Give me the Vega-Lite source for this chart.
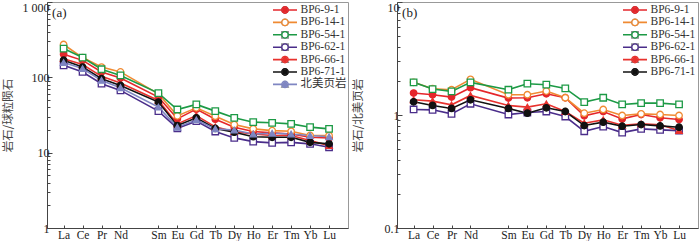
{
  "$schema": "https://vega.github.io/schema/vega-lite/v6.json",
  "background": "white",
  "padding": {"left": 1, "top": -2, "right": 1, "bottom": 0},
  "bounds": "flush",
  "spacing": 49,
  "datasets": {
    "a": [
      {"s":"BP6-9-1","e":"La","v":203},{"s":"BP6-9-1","e":"Ce","v":168},{"s":"BP6-9-1","e":"Pr","v":118},{"s":"BP6-9-1","e":"Nd","v":98},{"s":"BP6-9-1","e":"Sm","v":54.7},{"s":"BP6-9-1","e":"Eu","v":28.1},{"s":"BP6-9-1","e":"Gd","v":37.8},{"s":"BP6-9-1","e":"Tb","v":27.8},{"s":"BP6-9-1","e":"Dy","v":21.8},{"s":"BP6-9-1","e":"Ho","v":19.1},{"s":"BP6-9-1","e":"Er","v":18.3},{"s":"BP6-9-1","e":"Tm","v":17.7},{"s":"BP6-9-1","e":"Yb","v":16},{"s":"BP6-9-1","e":"Lu","v":15.7},
      {"s":"BP6-14-1","e":"La","v":273},{"s":"BP6-14-1","e":"Ce","v":183},{"s":"BP6-14-1","e":"Pr","v":137},{"s":"BP6-14-1","e":"Nd","v":118},{"s":"BP6-14-1","e":"Sm","v":60.5},{"s":"BP6-14-1","e":"Eu","v":30.8},{"s":"BP6-14-1","e":"Gd","v":39.4},{"s":"BP6-14-1","e":"Tb","v":30.5},{"s":"BP6-14-1","e":"Dy","v":23.6},{"s":"BP6-14-1","e":"Ho","v":20.7},{"s":"BP6-14-1","e":"Er","v":19.6},{"s":"BP6-14-1","e":"Tm","v":19.2},{"s":"BP6-14-1","e":"Yb","v":16.9},{"s":"BP6-14-1","e":"Lu","v":16.9},
      {"s":"BP6-54-1","e":"La","v":241},{"s":"BP6-54-1","e":"Ce","v":183},{"s":"BP6-54-1","e":"Pr","v":128},{"s":"BP6-54-1","e":"Nd","v":106},{"s":"BP6-54-1","e":"Sm","v":61.8},{"s":"BP6-54-1","e":"Eu","v":37.4},{"s":"BP6-54-1","e":"Gd","v":43.7},{"s":"BP6-54-1","e":"Tb","v":35.6},{"s":"BP6-54-1","e":"Dy","v":29},{"s":"BP6-54-1","e":"Ho","v":25.4},{"s":"BP6-54-1","e":"Er","v":24.9},{"s":"BP6-54-1","e":"Tm","v":24.1},{"s":"BP6-54-1","e":"Yb","v":21.8},{"s":"BP6-54-1","e":"Lu","v":20.7},
      {"s":"BP6-62-1","e":"La","v":144.5},{"s":"BP6-62-1","e":"Ce","v":117.8},{"s":"BP6-62-1","e":"Pr","v":82.3},{"s":"BP6-62-1","e":"Nd","v":67.1},{"s":"BP6-62-1","e":"Sm","v":35.6},{"s":"BP6-62-1","e":"Eu","v":21.1},{"s":"BP6-62-1","e":"Gd","v":26.2},{"s":"BP6-62-1","e":"Tb","v":19.1},{"s":"BP6-62-1","e":"Dy","v":15.7},{"s":"BP6-62-1","e":"Ho","v":14},{"s":"BP6-62-1","e":"Er","v":13.5},{"s":"BP6-62-1","e":"Tm","v":13.7},{"s":"BP6-62-1","e":"Yb","v":13.1},{"s":"BP6-62-1","e":"Lu","v":11.8},
      {"s":"BP6-66-1","e":"La","v":177},{"s":"BP6-66-1","e":"Ce","v":147.6},{"s":"BP6-66-1","e":"Pr","v":103},{"s":"BP6-66-1","e":"Nd","v":84},{"s":"BP6-66-1","e":"Sm","v":49.4},{"s":"BP6-66-1","e":"Eu","v":24.1},{"s":"BP6-66-1","e":"Gd","v":31.1},{"s":"BP6-66-1","e":"Tb","v":22},{"s":"BP6-66-1","e":"Dy","v":19},{"s":"BP6-66-1","e":"Ho","v":17.7},{"s":"BP6-66-1","e":"Er","v":16.9},{"s":"BP6-66-1","e":"Tm","v":16.9},{"s":"BP6-66-1","e":"Yb","v":14.5},{"s":"BP6-66-1","e":"Lu","v":12.4},
      {"s":"BP6-71-1","e":"La","v":168.6},{"s":"BP6-71-1","e":"Ce","v":137},{"s":"BP6-71-1","e":"Pr","v":96},{"s":"BP6-71-1","e":"Nd","v":78},{"s":"BP6-71-1","e":"Sm","v":47},{"s":"BP6-71-1","e":"Eu","v":22.9},{"s":"BP6-71-1","e":"Gd","v":29},{"s":"BP6-71-1","e":"Tb","v":21},{"s":"BP6-71-1","e":"Dy","v":18.7},{"s":"BP6-71-1","e":"Ho","v":16.3},{"s":"BP6-71-1","e":"Er","v":16},{"s":"BP6-71-1","e":"Tm","v":16},{"s":"BP6-71-1","e":"Yb","v":13.7},{"s":"BP6-71-1","e":"Lu","v":13.1},
      {"s":"北美页岩","e":"La","v":157},{"s":"北美页岩","e":"Ce","v":130.6},{"s":"北美页岩","e":"Pr","v":91},{"s":"北美页岩","e":"Nd","v":72.8},{"s":"北美页岩","e":"Sm","v":40.2},{"s":"北美页岩","e":"Eu","v":21.8},{"s":"北美页岩","e":"Gd","v":27.3},{"s":"北美页岩","e":"Tb","v":20.7},{"s":"北美页岩","e":"Dy","v":20},{"s":"北美页岩","e":"Ho","v":17.7},{"s":"北美页岩","e":"Er","v":18.1},{"s":"北美页岩","e":"Tm","v":17.7},{"s":"北美页岩","e":"Yb","v":16.9},{"s":"北美页岩","e":"Lu","v":16.3}
    ],
    "b": [
      {"s":"BP6-9-1","e":"La","v":1.564},{"s":"BP6-9-1","e":"Ce","v":1.511},{"s":"BP6-9-1","e":"Pr","v":1.44},{"s":"BP6-9-1","e":"Nd","v":1.744},{"s":"BP6-9-1","e":"Sm","v":1.411},{"s":"BP6-9-1","e":"Eu","v":1.421},{"s":"BP6-9-1","e":"Gd","v":1.542},{"s":"BP6-9-1","e":"Tb","v":1.421},{"s":"BP6-9-1","e":"Dy","v":0.983},{"s":"BP6-9-1","e":"Ho","v":1.074},{"s":"BP6-9-1","e":"Er","v":0.924},{"s":"BP6-9-1","e":"Tm","v":1.01},{"s":"BP6-9-1","e":"Yb","v":0.944},{"s":"BP6-9-1","e":"Lu","v":0.912},
      {"s":"BP6-14-1","e":"La","v":1.945},{"s":"BP6-14-1","e":"Ce","v":1.708},{"s":"BP6-14-1","e":"Pr","v":1.674},{"s":"BP6-14-1","e":"Nd","v":2.068},{"s":"BP6-14-1","e":"Sm","v":1.511},{"s":"BP6-14-1","e":"Eu","v":1.511},{"s":"BP6-14-1","e":"Gd","v":1.629},{"s":"BP6-14-1","e":"Tb","v":1.421},{"s":"BP6-14-1","e":"Dy","v":1.038},{"s":"BP6-14-1","e":"Ho","v":1.119},{"s":"BP6-14-1","e":"Er","v":0.99},{"s":"BP6-14-1","e":"Tm","v":1.024},{"s":"BP6-14-1","e":"Yb","v":1.01},{"s":"BP6-14-1","e":"Lu","v":0.99},
      {"s":"BP6-54-1","e":"La","v":1.945},{"s":"BP6-54-1","e":"Ce","v":1.697},{"s":"BP6-54-1","e":"Pr","v":1.618},{"s":"BP6-54-1","e":"Nd","v":1.945},{"s":"BP6-54-1","e":"Sm","v":1.674},{"s":"BP6-54-1","e":"Eu","v":1.892},{"s":"BP6-54-1","e":"Gd","v":1.854},{"s":"BP6-54-1","e":"Tb","v":1.72},{"s":"BP6-54-1","e":"Dy","v":1.3},{"s":"BP6-54-1","e":"Ho","v":1.421},{"s":"BP6-54-1","e":"Er","v":1.24},{"s":"BP6-54-1","e":"Tm","v":1.274},{"s":"BP6-54-1","e":"Yb","v":1.274},{"s":"BP6-54-1","e":"Lu","v":1.24},
      {"s":"BP6-62-1","e":"La","v":1.119},{"s":"BP6-62-1","e":"Ce","v":1.111},{"s":"BP6-62-1","e":"Pr","v":1.024},{"s":"BP6-62-1","e":"Nd","v":1.257},{"s":"BP6-62-1","e":"Sm","v":1.01},{"s":"BP6-62-1","e":"Eu","v":1.052},{"s":"BP6-62-1","e":"Gd","v":1.074},{"s":"BP6-62-1","e":"Tb","v":0.97},{"s":"BP6-62-1","e":"Dy","v":0.718},{"s":"BP6-62-1","e":"Ho","v":0.79},{"s":"BP6-62-1","e":"Er","v":0.699},{"s":"BP6-62-1","e":"Tm","v":0.753},{"s":"BP6-62-1","e":"Yb","v":0.738},{"s":"BP6-62-1","e":"Lu","v":0.728},
      {"s":"BP6-66-1","e":"La","v":1.364},{"s":"BP6-66-1","e":"Ce","v":1.327},{"s":"BP6-66-1","e":"Pr","v":1.231},{"s":"BP6-66-1","e":"Nd","v":1.49},{"s":"BP6-66-1","e":"Sm","v":1.214},{"s":"BP6-66-1","e":"Eu","v":1.174},{"s":"BP6-66-1","e":"Gd","v":1.257},{"s":"BP6-66-1","e":"Tb","v":1.074},{"s":"BP6-66-1","e":"Dy","v":0.846},{"s":"BP6-66-1","e":"Ho","v":0.906},{"s":"BP6-66-1","e":"Er","v":0.812},{"s":"BP6-66-1","e":"Tm","v":0.835},{"s":"BP6-66-1","e":"Yb","v":0.818},{"s":"BP6-66-1","e":"Lu","v":0.728},
      {"s":"BP6-71-1","e":"La","v":1.309},{"s":"BP6-71-1","e":"Ce","v":1.214},{"s":"BP6-71-1","e":"Pr","v":1.142},{"s":"BP6-71-1","e":"Nd","v":1.364},{"s":"BP6-71-1","e":"Sm","v":1.142},{"s":"BP6-71-1","e":"Eu","v":1.038},{"s":"BP6-71-1","e":"Gd","v":1.158},{"s":"BP6-71-1","e":"Tb","v":1.074},{"s":"BP6-71-1","e":"Dy","v":0.807},{"s":"BP6-71-1","e":"Ho","v":0.864},{"s":"BP6-71-1","e":"Er","v":0.796},{"s":"BP6-71-1","e":"Tm","v":0.823},{"s":"BP6-71-1","e":"Yb","v":0.801},{"s":"BP6-71-1","e":"Lu","v":0.78}
    ]
  },
  "hconcat": [
    {
      "width": 301,
      "height": 226,
      "data": {"name": "a"},
      "layer": [
        {
          "mark": {"type": "line", "strokeWidth": 1.6},
          "encoding": {
            "x": {"field": "e", "type": "ordinal", "title": null,
              "scale": {"type": "point", "domain": ["La","Ce","Pr","Nd","Pm","Sm","Eu","Gd","Tb","Dy","Ho","Er","Tm","Yb","Lu"], "padding": 0.9375, "align": 0.467},
              "axis": {"values": ["La","Ce","Pr","Nd","Sm","Eu","Gd","Tb","Dy","Ho","Er","Tm","Yb","Lu"]}},
            "y": {"field": "v", "type": "quantitative", "title": "岩石/球粒陨石",
              "scale": {"type": "log", "domain": [1, 1000], "nice": false},
              "axis": {"values": [1,2,3,4,5,6,7,8,9,10,20,30,40,50,60,70,80,90,100,200,300,400,500,600,700,800,900,1000],
                "labelExpr": "datum.value == 1000 ? '1 000' : (datum.value == 1 || datum.value == 10 || datum.value == 100) ? '' + datum.value : ''",
                "tickSize": {"condition": {"test": "datum.value == 1 || datum.value == 10 || datum.value == 100 || datum.value == 1000", "value": -5}, "value": -3},
                "labelBaseline": {"condition": {"test": "datum.value == 1000", "value": "top"}, "value": "middle"}}},
            "color": {"field": "s", "type": "nominal",
              "scale": {"domain": ["BP6-9-1","BP6-14-1","BP6-54-1","BP6-62-1","BP6-66-1","BP6-71-1","北美页岩"], "range": ["#e5262b","#f08a32","#1c9a45","#4a2d8a","#e8322e","#111111","#7f86c2"]},
              "legend": {"orient": "none", "legendX": 225, "legendY": 2.5, "title": null, "symbolType": "stroke", "symbolSize": 576, "symbolStrokeWidth": 1.6, "clipHeight": 11, "rowPadding": 0.4, "labelOffset": 2.5}},
            "order": {"value": null}
          }
        },
        {
          "mark": {"type": "point", "filled": true, "opacity": 1, "size": 42, "strokeWidth": 1.3},
          "encoding": {
            "x": {"field": "e", "type": "ordinal"},
            "y": {"field": "v", "type": "quantitative"},
            "stroke": {"field": "s", "type": "nominal", "sort": ["BP6-9-1","BP6-14-1","BP6-54-1","BP6-62-1","BP6-66-1","BP6-71-1","北美页岩"],
              "scale": {"range": ["#e5262b","#f08a32","#1c9a45","#4a2d8a","#e8322e","#111111","#7f86c2"]},
              "legend": {"orient": "none", "legendX": 225, "legendY": 2.5, "title": null, "symbolSize": 42, "symbolStrokeWidth": 1.3, "symbolFillColor": "transparent", "clipHeight": 11, "rowPadding": 0.4, "symbolOffset": 7.25, "labelExpr": "''", "labelOffset": 2.5}},
            "fill": {"field": "s", "type": "nominal", "sort": ["BP6-9-1","BP6-14-1","BP6-54-1","BP6-62-1","BP6-66-1","BP6-71-1","北美页岩"],
              "scale": {"range": ["#e5262b","#ffffff","#ffffff","#ffffff","#e8322e","#111111","#7f86c2"]},
              "legend": {"orient": "none", "legendX": 225, "legendY": 2.5, "title": null, "symbolSize": 30, "symbolStrokeWidth": 0, "clipHeight": 11, "rowPadding": 0.4, "symbolOffset": 7.25, "labelExpr": "''", "labelOffset": 2.5}},
            "shape": {"field": "s", "type": "nominal", "sort": ["BP6-9-1","BP6-14-1","BP6-54-1","BP6-62-1","BP6-66-1","BP6-71-1","北美页岩"],
              "scale": {"range": ["circle","circle","square","square","triangle-up","circle","triangle-up"]},
              "legend": {"orient": "none", "legendX": 225, "legendY": 2.5, "title": null, "symbolSize": 42, "symbolStrokeWidth": 1.3, "symbolFillColor": "transparent", "clipHeight": 11, "rowPadding": 0.4, "symbolOffset": 7.25, "labelExpr": "''", "labelOffset": 2.5}}
          }
        },
        {
          "data": {"values": [{"e": "La", "v": 708, "t": "(a)"}]},
          "mark": {"type": "text", "align": "left", "baseline": "middle", "dx": -11.5, "font": "Liberation Serif", "fontSize": 13, "fill": "#222222"},
          "encoding": {
            "x": {"field": "e", "type": "ordinal"},
            "y": {"field": "v", "type": "quantitative"},
            "text": {"field": "t", "type": "nominal"}
          }
        }
      ]
    },
    {
      "width": 301,
      "height": 226,
      "data": {"name": "b"},
      "layer": [
        {
          "mark": {"type": "line", "strokeWidth": 1.6},
          "encoding": {
            "x": {"field": "e", "type": "ordinal", "title": null,
              "scale": {"type": "point", "domain": ["La","Ce","Pr","Nd","Pm","Sm","Eu","Gd","Tb","Dy","Ho","Er","Tm","Yb","Lu"], "padding": 0.9375, "align": 0.467},
              "axis": {"values": ["La","Ce","Pr","Nd","Sm","Eu","Gd","Tb","Dy","Ho","Er","Tm","Yb","Lu"]}},
            "y": {"field": "v", "type": "quantitative", "title": "岩石/北美页岩",
              "scale": {"type": "log", "domain": [0.1, 10], "nice": false},
              "axis": {"values": [0.1,0.2,0.3,0.4,0.5,0.6,0.7,0.8,0.9,1,2,3,4,5,6,7,8,9,10],
                "labelExpr": "(datum.value == 0.1 || datum.value == 1 || datum.value == 10) ? '' + datum.value : ''",
                "tickSize": {"condition": {"test": "datum.value == 0.1 || datum.value == 1 || datum.value == 10", "value": -5}, "value": -3},
                "labelBaseline": {"condition": {"test": "datum.value == 10", "value": "top"}, "value": "middle"}}},
            "color": {"field": "s", "type": "nominal",
              "scale": {"domain": ["BP6-9-1","BP6-14-1","BP6-54-1","BP6-62-1","BP6-66-1","BP6-71-1"], "range": ["#e5262b","#f08a32","#1c9a45","#4a2d8a","#e8322e","#111111"]},
              "legend": {"orient": "none", "legendX": 225, "legendY": 2.5, "title": null, "symbolType": "stroke", "symbolSize": 576, "symbolStrokeWidth": 1.6, "clipHeight": 11, "rowPadding": 0.4, "labelOffset": 2.5}},
            "order": {"value": null}
          }
        },
        {
          "mark": {"type": "point", "filled": true, "opacity": 1, "size": 42, "strokeWidth": 1.3},
          "encoding": {
            "x": {"field": "e", "type": "ordinal"},
            "y": {"field": "v", "type": "quantitative"},
            "stroke": {"field": "s", "type": "nominal", "sort": ["BP6-9-1","BP6-14-1","BP6-54-1","BP6-62-1","BP6-66-1","BP6-71-1"],
              "scale": {"range": ["#e5262b","#f08a32","#1c9a45","#4a2d8a","#e8322e","#111111"]},
              "legend": {"orient": "none", "legendX": 225, "legendY": 2.5, "title": null, "symbolSize": 42, "symbolStrokeWidth": 1.3, "symbolFillColor": "transparent", "clipHeight": 11, "rowPadding": 0.4, "symbolOffset": 7.25, "labelExpr": "''", "labelOffset": 2.5}},
            "fill": {"field": "s", "type": "nominal", "sort": ["BP6-9-1","BP6-14-1","BP6-54-1","BP6-62-1","BP6-66-1","BP6-71-1"],
              "scale": {"range": ["#e5262b","#ffffff","#ffffff","#ffffff","#e8322e","#111111"]},
              "legend": {"orient": "none", "legendX": 225, "legendY": 2.5, "title": null, "symbolSize": 30, "symbolStrokeWidth": 0, "clipHeight": 11, "rowPadding": 0.4, "symbolOffset": 7.25, "labelExpr": "''", "labelOffset": 2.5}},
            "shape": {"field": "s", "type": "nominal", "sort": ["BP6-9-1","BP6-14-1","BP6-54-1","BP6-62-1","BP6-66-1","BP6-71-1"],
              "scale": {"range": ["circle","circle","square","square","triangle-up","circle"]},
              "legend": {"orient": "none", "legendX": 225, "legendY": 2.5, "title": null, "symbolSize": 42, "symbolStrokeWidth": 1.3, "symbolFillColor": "transparent", "clipHeight": 11, "rowPadding": 0.4, "symbolOffset": 7.25, "labelExpr": "''", "labelOffset": 2.5}}
          }
        },
        {
          "data": {"values": [{"e": "La", "v": 7.94, "t": "(b)"}]},
          "mark": {"type": "text", "align": "left", "baseline": "middle", "dx": -11.5, "font": "Liberation Serif", "fontSize": 13, "fill": "#222222"},
          "encoding": {
            "x": {"field": "e", "type": "ordinal"},
            "y": {"field": "v", "type": "quantitative"},
            "text": {"field": "t", "type": "nominal"}
          }
        }
      ]
    }
  ],
  "resolve": {"scale": {"y": "independent", "color": "independent", "stroke": "independent", "fill": "independent", "shape": "independent"}, "legend": {"color": "independent", "stroke": "independent", "fill": "independent", "shape": "independent"}},
  "config": {
    "view": {"stroke": "#999999", "strokeWidth": 1},
    "axis": {"grid": false, "labelFont": "Liberation Serif", "labelFontSize": 11.5, "labelColor": "#222222", "domainColor": "#444444", "tickColor": "#444444", "domainWidth": 1, "tickWidth": 1, "titleFont": "Noto Sans CJK SC", "titleFontSize": 11.5, "titleFontWeight": "normal", "titleColor": "#444444", "labelOverlap": false, "labelBound": false, "labelFlush": false},
    "axisX": {"tickSize": -3, "labelAngle": 0, "labelPadding": 4},
    "axisY": {"labelPadding": 3, "labelFontSize": 12, "titleX": -39, "titleBaseline": "middle"},
    "legend": {"padding": 0, "labelFont": "Liberation Serif, Noto Sans CJK SC", "labelFontSize": 11.5, "labelColor": "#333333"}
  }
}
